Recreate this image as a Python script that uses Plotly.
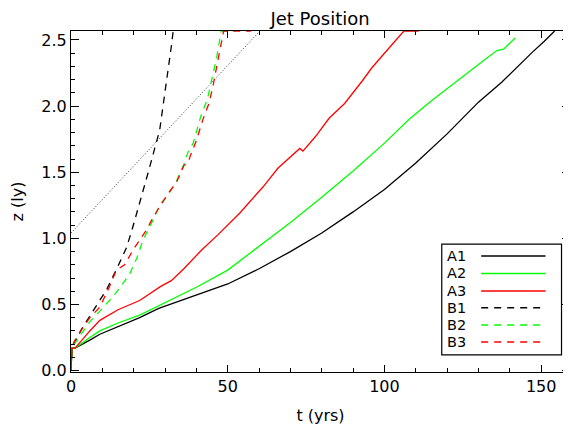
import plotly.graph_objects as go

# ---- data ----
series_names = ["A1", "A2", "A3", "B1", "B2", "B3"]

a1_t = [0, 0.3, 1.3, 3, 6, 9.2, 15, 21.9, 28, 40, 50, 60, 70, 80, 90, 100, 110, 120, 123.7, 130, 137.4, 142, 147.3, 151, 154.3]
a1_z = [0, 0.17, 0.17, 0.19, 0.23, 0.275, 0.33, 0.40, 0.47, 0.57, 0.655, 0.77, 0.90, 1.04, 1.20, 1.37, 1.57, 1.79, 1.88, 2.03, 2.18, 2.29, 2.41, 2.49, 2.568]

a2_t = [0, 0.3, 1.3, 3, 6, 9.2, 15, 21.9, 28, 40, 50, 60, 70, 80, 90, 100, 107.9, 115, 122, 128, 133, 135.9, 138, 141.7]
a2_z = [0, 0.17, 0.17, 0.20, 0.25, 0.30, 0.36, 0.42, 0.49, 0.63, 0.76, 0.94, 1.12, 1.31, 1.51, 1.72, 1.90, 2.04, 2.17, 2.28, 2.37, 2.42, 2.43, 2.515]

a3_t = [0, 0.3, 1.3, 3, 6, 9.2, 15, 21.9, 26.2, 28.5, 32, 36, 41.6, 47, 53.8, 61.3, 66, 70, 73, 74, 78, 82.4, 87.3, 92.9, 96, 100, 103, 106.2, 110.9]
a3_z = [0, 0.17, 0.17, 0.22, 0.30, 0.38, 0.46, 0.53, 0.595, 0.635, 0.68, 0.77, 0.91, 1.03, 1.19, 1.39, 1.53, 1.62, 1.68, 1.66, 1.77, 1.91, 2.02, 2.19, 2.29, 2.40, 2.48, 2.568, 2.568]

b1_t = [0, 0.3, 1, 3.3, 7, 11.3, 15, 17.7, 19.3, 22, 25, 28.3, 30, 32, 32.6]
b1_z = [0, 0.17, 0.2, 0.31, 0.45, 0.61, 0.79, 0.93, 1.05, 1.27, 1.53, 1.82, 2.10, 2.45, 2.568]

b2_t = [0, 0.3, 1, 3, 6, 9.2, 13.4, 16, 18.7, 21, 23, 25, 28.3, 31, 33.6, 36, 37.3, 39, 41.5, 43.5, 45, 46.5, 47.9, 51.6]
b2_z = [0, 0.17, 0.2, 0.27, 0.37, 0.45, 0.56, 0.64, 0.73, 0.85, 0.99, 1.08, 1.25, 1.33, 1.43, 1.56, 1.65, 1.72, 1.93, 2.05, 2.20, 2.37, 2.568, 2.568]

b3_t = [0, 0.3, 1, 2.8, 6, 9.2, 12, 14.5, 17.1, 20, 24, 26, 28.3, 31, 33.6, 36, 37.5, 38, 40, 42.1, 44, 45.3, 46.9, 48.7, 57.4]
b3_z = [0, 0.17, 0.22, 0.29, 0.40, 0.48, 0.62, 0.76, 0.80, 0.92, 1.06, 1.15, 1.24, 1.34, 1.42, 1.55, 1.58, 1.62, 1.74, 1.90, 2.02, 2.15, 2.35, 2.568, 2.568]

ref_t = [0, 62]
ref_z = [1.04, 2.612]

x_ticks = [0, 50, 100, 150]
y_ticks = [0.0, 0.5, 1.0, 1.5, 2.0, 2.5]
y_ticklabels = ["0.0", "0.5", "1.0", "1.5", "2.0", "2.5"]

# ---- styles ----
colors = ["#000000", "#00ff00", "#ff0000", "#000000", "#00ff00", "#ff0000"]
dashes = ["solid", "solid", "solid", "7px,6px", "7px,6px", "7px,6px"]
LW = 1.3
FONT = "DejaVu Sans"

ts = [a1_t, a2_t, a3_t, b1_t, b2_t, b3_t]
zs = [a1_z, a2_z, a3_z, b1_z, b2_z, b3_z]

fig = go.Figure()
fig.add_trace(go.Scatter(x=ref_t, y=ref_z, mode="lines",
                         line=dict(color="#333333", width=1, dash="1px,2px"),
                         showlegend=False, hoverinfo="skip"))
for name, t, z, c, d in zip(series_names, ts, zs, colors, dashes):
    fig.add_trace(go.Scatter(x=t, y=z, mode="lines", name=name,
                             line=dict(color=c, width=LW, dash=d),
                             showlegend=False))

# ---- custom legend (text left, sample line right) ----
bx0, bx1, by0, by1 = 0.743, 0.983, 0.050, 0.375
fig.add_shape(type="rect", xref="paper", yref="paper", x0=bx0, x1=bx1, y0=by0, y1=by1,
              line=dict(color="black", width=1.2), fillcolor="white", layer="above")
row_y = [0.340, 0.289, 0.2375, 0.1886, 0.138, 0.088]
for name, c, d, yy in zip(series_names, colors, dashes, row_y):
    fig.add_annotation(xref="paper", yref="paper", x=0.752, y=yy, text=name,
                       showarrow=False, xanchor="left", yanchor="middle", borderpad=0,
                       font=dict(family=FONT, size=14.5, color="black"))
    fig.add_shape(type="line", xref="paper", yref="paper", x0=0.822, x1=0.951, y0=yy, y1=yy,
                  line=dict(color=c, width=LW + 0.2, dash=d), layer="above")

axis_common = dict(showline=True, linecolor="black", linewidth=1, mirror="ticks",
                   ticks="inside", tickcolor="black", showgrid=False, zeroline=False,
                   automargin=False,
                   tickfont=dict(family=FONT, size=16, color="black"))

# page body has an 8px margin, so the figure is 8px smaller and margins shifted
fig.update_layout(
    width=563, height=419,
    margin=dict(l=63, r=1, t=23, b=55),
    paper_bgcolor="white", plot_bgcolor="white",
    title=dict(text="Jet Position", x=0.5542, xanchor="center", y=0.99, yanchor="top",
               automargin=False, pad=dict(t=0, b=0),
               font=dict(family=FONT, size=18, color="black")),
    xaxis=dict(range=[0, 159.2], tickvals=x_ticks, ticklen=7, tickwidth=1,
               minor=dict(dtick=10, ticks="inside", ticklen=4, tickcolor="black", tickwidth=1),
               title=dict(text="t (yrs)", font=dict(family=FONT, size=16, color="black"), standoff=14),
               **axis_common),
    yaxis=dict(range=[-0.0106, 2.568], tickvals=y_ticks, ticktext=y_ticklabels, ticklen=8, tickwidth=1,
               minor=dict(dtick=0.1, ticks="inside", ticklen=4, tickcolor="black", tickwidth=1),
               title=dict(text="z (ly)", font=dict(family=FONT, size=16, color="black"), standoff=15),
               **axis_common),
)

fig.write_html("out.html")
